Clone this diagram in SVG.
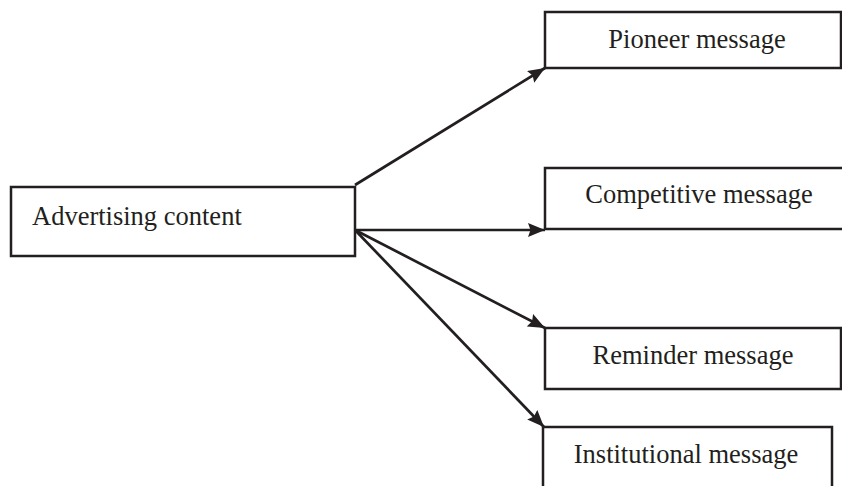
<svg xmlns="http://www.w3.org/2000/svg" width="842" height="486" viewBox="0 0 842 486">
<style>
.box{fill:#fff;stroke:#231f20;stroke-width:2.5}
.lbl{font-family:"Liberation Serif","Times New Roman",serif;font-size:26.5px;fill:#231f20}
.con{fill:none;stroke:#231f20;stroke-width:2.7}
</style>
<defs>
<marker id="ah" viewBox="0 0 17 14" refX="17" refY="7" markerWidth="17" markerHeight="14" markerUnits="userSpaceOnUse" orient="auto">
<path d="M0,0 L17,7 L0,14 L2.5,7 Z" fill="#231f20"/>
</marker>
</defs>
<rect width="842" height="486" fill="#fff"/>
<g id="connectors">
<line class="con" x1="355" y1="185" x2="545" y2="68" marker-end="url(#ah)"/>
<line class="con" x1="355" y1="230" x2="545" y2="230" marker-end="url(#ah)"/>
<line class="con" x1="355" y1="230" x2="545" y2="328" marker-end="url(#ah)"/>
<line class="con" x1="355" y1="230" x2="544" y2="427" marker-end="url(#ah)"/>
</g>
<g id="advertising">
<rect class="box" x="11" y="187" width="344" height="69"/>
<text class="lbl" x="32" y="225">Advertising content</text>
</g>
<g id="pioneer">
<rect class="box" x="545" y="12" width="296" height="56"/>
<text class="lbl" x="697" y="48" text-anchor="middle">Pioneer message</text>
</g>
<g id="competitive">
<rect class="box" x="545" y="168" width="300" height="61"/>
<text class="lbl" x="699" y="203" text-anchor="middle">Competitive message</text>
</g>
<g id="reminder">
<rect class="box" x="545" y="328" width="296" height="61"/>
<text class="lbl" x="693" y="364" text-anchor="middle">Reminder message</text>
</g>
<g id="institutional">
<rect class="box" x="543" y="427" width="289" height="70"/>
<text class="lbl" x="686" y="463" text-anchor="middle">Institutional message</text>
</g>
</svg>
